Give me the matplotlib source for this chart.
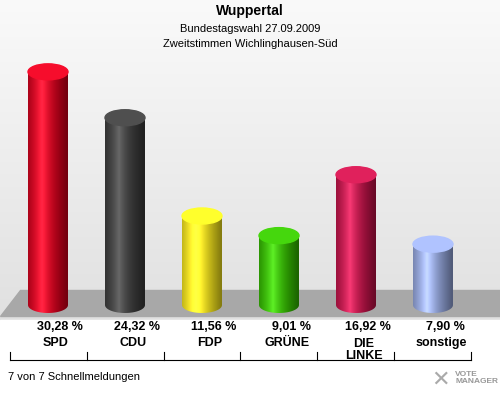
import numpy as np
import matplotlib
matplotlib.use("Agg")
import matplotlib.pyplot as plt
from matplotlib.patches import Ellipse, Polygon, Rectangle, PathPatch
from matplotlib.path import Path
import matplotlib.colors as mc

parties = ["SPD", "CDU", "FDP", "GRÜNE", "DIE\nLINKE", "sonstige"]
values = [30.28, 24.32, 11.56, 9.01, 16.92, 7.90]
labels = ["30,28 %", "24,32 %", "11,56 %", "9,01 %", "16,92 %", "7,90 %"]
colors = ["#d4001c", "#3c3c3c", "#f2e21c", "#33b800", "#c01248", "#94a6dc"]

fig = plt.figure(figsize=(5, 4), dpi=100)
fig.patch.set_facecolor("#f4f4f4")
ax = fig.add_axes([0, 0, 1, 1])
ax.set_xlim(0, 500); ax.set_ylim(400, 0); ax.axis("off")

# background gradient
bg = np.linspace(1, 0, 256)[:, None]
ax.imshow(np.dstack([0.88+0.1*bg, 0.88+0.1*bg, 0.88+0.1*bg]), extent=(0, 500, 320, 0), aspect="auto", zorder=0)
ax.add_patch(Rectangle((0, 320), 500, 80, color="white", zorder=0))

# floor
ax.add_patch(Polygon([(20, 290), (500, 290), (500, 316), (0, 316)], closed=True, color="#a8a8a8", zorder=1))

ax.text(250, 11, "Wuppertal", ha="center", va="center", fontsize=10, fontweight="bold", family="Liberation Sans")
ax.text(250, 29, "Bundestagswahl 27.09.2009", ha="center", va="center", fontsize=8, family="Liberation Sans")
ax.text(250, 44, "Zweitstimmen Wichlinghausen-Süd", ha="center", va="center", fontsize=8, family="Liberation Sans")

scale = 7.7
base = 305
w = 40
eh = 16
for i, (p, v, lab, c) in enumerate(zip(parties, values, labels, colors)):
    cx = 48 + 77 * i
    top = base - v * scale
    rgb = np.array(mc.to_rgb(c))
    xs = np.linspace(0, 1, 100)
    light = np.clip(1 - np.abs(xs - 0.35) * 1.6, 0, 1)
    shade = 0.55 + 0.55 * light
    img = np.clip(rgb[None, :] * shade[:, None] + 0.15 * light[:, None] ** 3, 0, 1)[None, :, :]
    im = ax.imshow(img, extent=(cx - w/2, cx + w/2, base + eh/2, top), aspect="auto", zorder=3)
    verts = [(cx - w/2, top), (cx - w/2, base)]
    th = np.linspace(np.pi, 0, 40)
    verts += [(cx + w/2*np.cos(t), base + eh/2*np.sin(t)) for t in th]
    verts += [(cx + w/2, top), (cx - w/2, top)]
    path = Path(verts)
    clip = PathPatch(path, transform=ax.transData, facecolor="none", edgecolor="none")
    ax.add_patch(clip)
    im.set_clip_path(clip)
    topc = np.clip(rgb * 1.1 + 0.05, 0, 1)
    ax.add_patch(Ellipse((cx, top), w, eh, color=topc, zorder=4))
    ax.text(cx + 12, 327, lab, ha="center", va="center", fontsize=9, fontweight="bold", family="Liberation Sans", zorder=5)
    ax.text(cx + 8 if "\n" not in p else cx + 8, 343 if "\n" not in p else 350, p, ha="center", va="center",
            fontsize=9, fontweight="bold", family="Liberation Sans", linespacing=0.95, zorder=5)

# bracket line
ax.plot([10, 471], [360, 360], color="black", lw=0.8)
for k in range(7):
    x = 10 + k * 76.8
    ax.plot([x, x], [352, 360], color="black", lw=0.8)

ax.text(8, 377, "7 von 7 Schnellmeldungen", ha="left", va="center", fontsize=8, family="Liberation Sans")
ax.text(455, 378, "VOTE\nMANAGER", ha="left", va="center", fontsize=6, fontweight="bold", color="#999999",
        family="Liberation Sans", linespacing=0.9)
ax.text(440, 380, "✕", ha="center", va="center", fontsize=16, color="#aaaaaa")

fig.savefig("out.png", dpi=100, facecolor=fig.get_facecolor())
